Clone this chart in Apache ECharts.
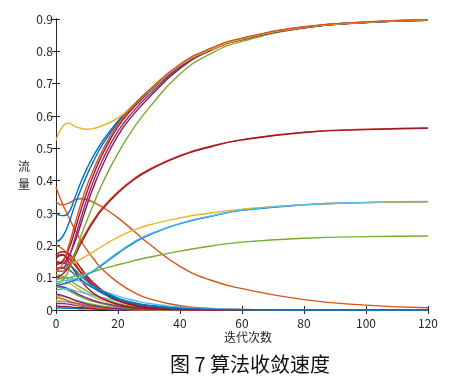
<!DOCTYPE html>
<html>
<head>
<meta charset="utf-8">
<script src="https://cdn.jsdelivr.net/npm/echarts@6/dist/echarts.min.js"></script>
<style>
html,body{margin:0;padding:0;background:#fff;}
#chart{width:461px;height:382px;}
</style>
</head>
<body>
<div id="chart"></div>
<script>
// iteration sample points (x)
const iters = [0, 2, 4, 6, 8, 10, 12, 15, 20, 25, 30, 40, 50, 60, 80, 100, 120];
const xTicks = [0, 20, 40, 60, 80, 100, 120];
const yTicks = [0, 0.1, 0.2, 0.3, 0.4, 0.5, 0.6, 0.7, 0.8, 0.9];

// lines converging to ~0.9
const upBlue1   = [0.297, 0.292, 0.300, 0.345, 0.395, 0.438, 0.475, 0.522, 0.585, 0.635, 0.678, 0.757, 0.807, 0.839, 0.875, 0.890, 0.897];
const upBlue2   = [0.210, 0.225, 0.265, 0.322, 0.372, 0.418, 0.458, 0.512, 0.580, 0.632, 0.676, 0.756, 0.807, 0.839, 0.875, 0.890, 0.897];
const upOrange  = [0.120, 0.140, 0.195, 0.262, 0.328, 0.385, 0.432, 0.494, 0.575, 0.632, 0.680, 0.760, 0.810, 0.841, 0.876, 0.891, 0.898];
const upRed     = [0.140, 0.150, 0.185, 0.243, 0.308, 0.365, 0.416, 0.482, 0.567, 0.626, 0.674, 0.756, 0.808, 0.839, 0.874, 0.890, 0.897];
const upPurple  = [0.130, 0.130, 0.160, 0.218, 0.283, 0.343, 0.396, 0.464, 0.553, 0.615, 0.665, 0.751, 0.805, 0.837, 0.873, 0.889, 0.896];
const upDarkRed = [0.150, 0.145, 0.165, 0.208, 0.265, 0.325, 0.378, 0.447, 0.540, 0.605, 0.657, 0.747, 0.803, 0.836, 0.873, 0.889, 0.896];
const upYellow  = [0.525, 0.565, 0.578, 0.568, 0.562, 0.559, 0.561, 0.570, 0.594, 0.634, 0.678, 0.757, 0.806, 0.838, 0.874, 0.890, 0.897];
const upGreen   = [0.080, 0.090, 0.120, 0.172, 0.228, 0.277, 0.325, 0.392, 0.485, 0.562, 0.625, 0.730, 0.793, 0.831, 0.872, 0.889, 0.896];

// lines converging to ~0.56
const midRed    = [0.100, 0.110, 0.130, 0.165, 0.205, 0.240, 0.272, 0.312, 0.362, 0.402, 0.432, 0.476, 0.505, 0.526, 0.549, 0.558, 0.562];
const midOrange = [0.120, 0.120, 0.140, 0.175, 0.212, 0.246, 0.277, 0.316, 0.366, 0.405, 0.435, 0.478, 0.507, 0.527, 0.550, 0.559, 0.563];

// lines converging to ~0.335
const lowYellow = [0.130, 0.132, 0.138, 0.148, 0.158, 0.168, 0.180, 0.198, 0.225, 0.247, 0.263, 0.285, 0.300, 0.312, 0.326, 0.332, 0.335];
const lowCyan   = [0.085, 0.090, 0.092, 0.096, 0.102, 0.111, 0.122, 0.143, 0.178, 0.210, 0.234, 0.268, 0.291, 0.309, 0.326, 0.333, 0.336];
const lowBlue   = [0.075, 0.080, 0.085, 0.092, 0.100, 0.109, 0.120, 0.140, 0.175, 0.207, 0.232, 0.267, 0.290, 0.308, 0.325, 0.332, 0.335];

// line converging to ~0.23
const lowGreen  = [0.095, 0.098, 0.100, 0.104, 0.108, 0.113, 0.118, 0.127, 0.140, 0.152, 0.163, 0.182, 0.198, 0.210, 0.222, 0.227, 0.229];

// slowly decaying orange line
const decOrangeLong = [0.335, 0.325, 0.330, 0.340, 0.344, 0.341, 0.334, 0.318, 0.285, 0.245, 0.205, 0.135, 0.092, 0.066, 0.032, 0.015, 0.007];

// lines decaying to 0
const decBlue1   = [0.140, 0.145, 0.140, 0.125, 0.105, 0.090, 0.075, 0.058, 0.037, 0.023, 0.014, 0.005, 0.002, 0.001, 0, 0, 0];
const decBlue2   = [0.120, 0.130, 0.125, 0.110, 0.095, 0.080, 0.068, 0.052, 0.033, 0.021, 0.013, 0.005, 0.002, 0.001, 0, 0, 0];
const decCyan1   = [0.090, 0.100, 0.100, 0.095, 0.088, 0.080, 0.072, 0.060, 0.043, 0.030, 0.020, 0.009, 0.004, 0.002, 0, 0, 0];
const decCyan2   = [0.060, 0.065, 0.065, 0.060, 0.055, 0.050, 0.045, 0.038, 0.028, 0.020, 0.014, 0.006, 0.003, 0.001, 0, 0, 0];
const decPurple1 = [0.075, 0.072, 0.065, 0.055, 0.045, 0.037, 0.030, 0.022, 0.012, 0.006, 0.003, 0.001, 0, 0, 0, 0, 0];
const decPurple2 = [0.050, 0.045, 0.038, 0.030, 0.024, 0.018, 0.014, 0.009, 0.004, 0.002, 0.001, 0, 0, 0, 0, 0, 0];
const decRed1    = [0.170, 0.180, 0.175, 0.155, 0.130, 0.105, 0.085, 0.060, 0.032, 0.017, 0.008, 0.002, 0, 0, 0, 0, 0];
const decRed2    = [0.160, 0.170, 0.160, 0.140, 0.115, 0.095, 0.075, 0.052, 0.028, 0.014, 0.007, 0.001, 0, 0, 0, 0, 0];
const decOrange1 = [0.380, 0.330, 0.290, 0.250, 0.215, 0.185, 0.160, 0.125, 0.085, 0.055, 0.035, 0.013, 0.005, 0.002, 0, 0, 0];
const decOrange2 = [0.200, 0.190, 0.170, 0.145, 0.120, 0.100, 0.080, 0.058, 0.032, 0.017, 0.009, 0.002, 0, 0, 0, 0, 0];
const decYellow1 = [0.150, 0.148, 0.140, 0.125, 0.105, 0.088, 0.072, 0.052, 0.028, 0.015, 0.007, 0.001, 0, 0, 0, 0, 0];
const decYellow2 = [0.100, 0.095, 0.085, 0.072, 0.060, 0.050, 0.040, 0.030, 0.016, 0.008, 0.004, 0.001, 0, 0, 0, 0, 0];
const decGreen1  = [0.110, 0.105, 0.095, 0.082, 0.070, 0.058, 0.048, 0.035, 0.020, 0.011, 0.006, 0.001, 0, 0, 0, 0, 0];
const decGreen2  = [0.045, 0.043, 0.038, 0.032, 0.026, 0.021, 0.017, 0.012, 0.006, 0.003, 0.001, 0, 0, 0, 0, 0, 0];
const decPurple3 = [0.020, 0.020, 0.018, 0.015, 0.012, 0.010, 0.008, 0.005, 0.002, 0.001, 0, 0, 0, 0, 0, 0, 0];
const decOrange3 = [0.040, 0.035, 0.028, 0.022, 0.017, 0.013, 0.010, 0.006, 0.003, 0.001, 0, 0, 0, 0, 0, 0, 0];
const decRed3    = [0.012, 0.011, 0.010, 0.008, 0.007, 0.006, 0.005, 0.003, 0.001, 0, 0, 0, 0, 0, 0, 0, 0];
const decYellow3 = [0.030, 0.028, 0.024, 0.019, 0.015, 0.012, 0.009, 0.006, 0.003, 0.001, 0, 0, 0, 0, 0, 0, 0];
const decCyan3   = [0.025, 0.026, 0.025, 0.022, 0.019, 0.016, 0.013, 0.010, 0.006, 0.004, 0.002, 0.001, 0, 0, 0, 0, 0];
const decBlue3   = [0.006, 0.006, 0.005, 0.005, 0.004, 0.004, 0.003, 0.002, 0.001, 0, 0, 0, 0, 0, 0, 0, 0];
const decRed4    = [0.165, 0.172, 0.150, 0.120, 0.092, 0.070, 0.053, 0.035, 0.017, 0.008, 0.004, 0.001, 0, 0, 0, 0, 0];
const decGreen3  = [0.070, 0.068, 0.060, 0.050, 0.041, 0.033, 0.027, 0.019, 0.010, 0.005, 0.002, 0, 0, 0, 0, 0, 0];

const C = {blue:'#0072BD', orange:'#D95319', yellow:'#EDB120', purple:'#7E2F8E', green:'#77AC30', cyan:'#4DBEEE', red:'#A2142F'};

const lines = [
  [decBlue3, C.blue], [decRed3, C.red], [decPurple3, C.purple], [decYellow3, C.yellow], [decCyan3, C.cyan],
  [decOrange3, C.orange], [decGreen2, C.green], [decPurple2, C.purple], [decGreen3, C.green],
  [decYellow2, C.yellow], [decPurple1, C.purple], [decGreen1, C.green], [decCyan2, C.cyan],
  [decYellow1, C.yellow], [decOrange2, C.orange], [decRed2, C.red], [decRed4, C.red], [decRed1, C.red],
  [decOrange1, C.orange], [decCyan1, C.cyan], [decBlue2, C.blue], [decBlue1, C.blue],
  [decOrangeLong, C.orange],
  [lowGreen, C.green], [lowBlue, C.blue], [lowYellow, C.yellow], [lowCyan, C.cyan],
  [midOrange, C.orange], [midRed, C.red],
  [upGreen, C.green], [upDarkRed, C.red], [upPurple, C.purple], [upRed, C.red],
  [upBlue2, C.blue], [upBlue1, C.blue], [upYellow, C.yellow], [upOrange, C.orange]
];

const axisColor = '#262626';
const font = '"Noto Sans CJK SC", "Noto Sans", sans-serif';

const series = lines.map(([vals, color]) => ({
  type: 'line',
  data: iters.map((x, i) => [x, vals[i]]),
  showSymbol: false,
  smooth: 0.5,
  clip: true,
  lineStyle: {color: color, width: 1.4},
  itemStyle: {color: color},
  silent: true,
  animation: false
}));

const chart = echarts.init(document.getElementById('chart'), null, {renderer: 'canvas'});
chart.setOption({
  backgroundColor: '#fff',
  animation: false,
  grid: {left: 56, right: 33, top: 19, bottom: 72, containLabel: false},
  xAxis: [
    {type: 'value', min: xTicks[0], max: xTicks[xTicks.length - 1], interval: 20, position: 'bottom',
     axisLine: {show: true, lineStyle: {color: axisColor, width: 1}},
     axisTick: {show: true, inside: true, length: 4, lineStyle: {color: axisColor}},
     axisLabel: {color: axisColor, fontSize: 12, fontFamily: font, margin: 7},
     splitLine: {show: false}},
    {type: 'value', min: xTicks[0], max: xTicks[xTicks.length - 1], interval: 20, position: 'top',
     axisLine: {show: true, lineStyle: {color: axisColor, width: 1}},
     axisTick: {show: true, inside: true, length: 4, lineStyle: {color: axisColor}},
     axisLabel: {show: false}, splitLine: {show: false}}
  ],
  yAxis: [
    {type: 'value', min: yTicks[0], max: yTicks[yTicks.length - 1], interval: 0.1, position: 'left',
     axisLine: {show: true, lineStyle: {color: axisColor, width: 1}},
     axisTick: {show: true, inside: true, length: 4, lineStyle: {color: axisColor}},
     axisLabel: {color: axisColor, fontSize: 12, fontFamily: font, margin: 3,
                 formatter: v => (Math.round(v * 10) / 10).toString()},
     splitLine: {show: false}},
    {type: 'value', min: yTicks[0], max: yTicks[yTicks.length - 1], interval: 0.1, position: 'right',
     axisLine: {show: true, lineStyle: {color: axisColor, width: 1}},
     axisTick: {show: true, inside: true, length: 4, lineStyle: {color: axisColor}},
     axisLabel: {show: false}, splitLine: {show: false}}
  ],
  graphic: [
    {type: 'text', left: 224, top: 331, style: {text: '迭代次数', fontSize: 12, fontFamily: font, fill: axisColor}},
    {type: 'text', left: 18, top: 157, style: {text: '流\n量', fontSize: 12, lineHeight: 18, fontFamily: font, fill: axisColor}},
    {type: 'text', left: 170, top: 354, style: {text: '图 7 算法收敛速度', fontSize: 20, fontFamily: font, fill: '#111'}}
  ],
  series: series
});
</script>
</body>
</html>
